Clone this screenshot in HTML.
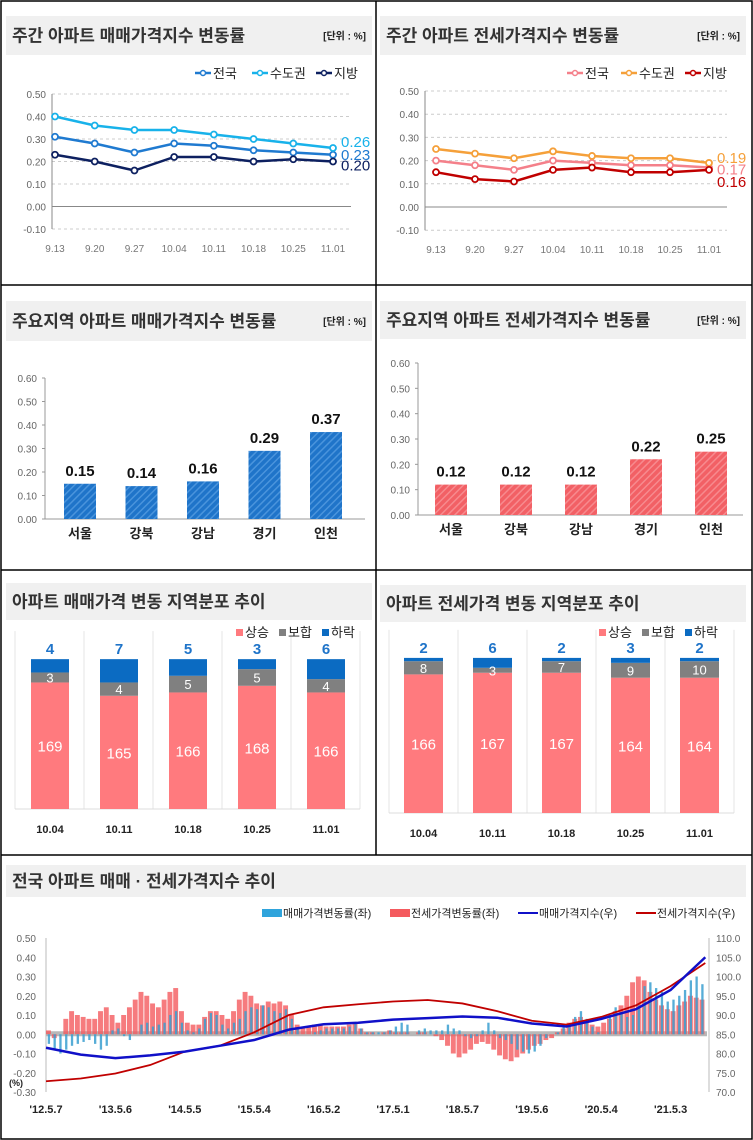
<!DOCTYPE html>
<html><head><meta charset="utf-8"><style>
body{margin:0;background:#fff}
svg{display:block;font-family:"Liberation Sans","Noto Sans CJK KR",sans-serif}
</style></head><body>
<svg id="s" width="753" height="1140" viewBox="0 0 753 1140" xmlns="http://www.w3.org/2000/svg">
<defs>
<pattern id="hb" width="5" height="5" patternUnits="userSpaceOnUse" patternTransform="rotate(45)"><rect width="5" height="5" fill="#1f74c9"/><rect width="1.5" height="5" fill="#4a94dc"/></pattern>
<pattern id="hr" width="5" height="5" patternUnits="userSpaceOnUse" patternTransform="rotate(45)"><rect width="5" height="5" fill="#f26065"/><rect width="1.5" height="5" fill="#f78a8e"/></pattern>
</defs>
<g id="frame" stroke="#000" stroke-width="1.5" fill="none">
<rect x="1" y="1" width="751" height="1138"/>
<line x1="376" y1="1" x2="376" y2="855"/>
<line x1="1" y1="285" x2="752" y2="285"/>
<line x1="1" y1="570" x2="752" y2="570"/>
<line x1="1" y1="855" x2="752" y2="855"/>
</g>
</svg>
<script>
// ---- data ----
const weeks = ["9.13","9.20","9.27","10.04","10.11","10.18","10.25","11.01"];
const saleNation = [0.31,0.28,0.24,0.28,0.27,0.25,0.24,0.23];
const saleCapital = [0.40,0.36,0.34,0.34,0.32,0.30,0.28,0.26];
const saleLocal = [0.23,0.20,0.16,0.22,0.22,0.20,0.21,0.20];
const rentNation = [0.20,0.18,0.16,0.20,0.19,0.18,0.18,0.17];
const rentCapital = [0.25,0.23,0.21,0.24,0.22,0.21,0.21,0.19];
const rentLocal = [0.15,0.12,0.11,0.16,0.17,0.15,0.15,0.16];
const lineTicks = ["0.50","0.40","0.30","0.20","0.10","0.00","-0.10"];
const regions = ["서울","강북","강남","경기","인천"];
const regionSale = [0.15,0.14,0.16,0.29,0.37];
const regionRent = [0.12,0.12,0.12,0.22,0.25];
const barTicks = ["0.60","0.50","0.40","0.30","0.20","0.10","0.00"];
const distDates = ["10.04","10.11","10.18","10.25","11.01"];
const saleUp = [169,165,166,168,166];
const saleFlat = [3,4,5,5,4];
const saleDown = [4,7,5,3,6];
const rentUp = [166,167,167,164,164];
const rentFlat = [8,3,7,9,10];
const rentDown = [2,6,2,3,2];
const histLabels = ["'12.5.7","'13.5.6","'14.5.5","'15.5.4","'16.5.2","'17.5.1","'18.5.7","'19.5.6","'20.5.4","'21.5.3"];
const leftTicks = ["0.50","0.40","0.30","0.20","0.10","0.00","-0.10","-0.20","-0.30"];
const rightTicks = ["110.0","105.0","100.0","95.0","90.0","85.0","80.0","75.0","70.0"];
// monthly changes from 2012.5 to 2021.10
const saleChg = [-0.05,-0.08,-0.10,-0.08,-0.06,-0.05,-0.04,-0.03,
-0.05,-0.08,-0.06,0.02,0.03,-0.01,-0.03,0.00,0.05,0.06,0.04,0.05,
0.06,0.10,0.12,0.06,0.02,0.01,0.03,0.08,0.11,0.10,0.05,0.03,
0.06,0.08,0.12,0.14,0.13,0.15,0.14,0.12,0.11,0.13,0.08,0.03,
0.00,0.00,0.01,0.02,0.03,0.03,0.03,0.03,0.04,0.06,0.03,0.01,
0.01,0.01,0.01,0.02,0.04,0.06,0.05,0.00,0.02,0.03,0.02,0.02,
0.02,0.05,0.03,0.02,-0.01,-0.02,-0.01,0.02,0.06,0.02,-0.02,-0.03,
-0.05,-0.08,-0.09,-0.10,-0.09,-0.06,-0.02,0.00,0.01,0.04,0.05,0.09,
0.12,0.08,0.04,0.01,0.00,0.10,0.14,0.11,0.09,0.10,0.15,0.25,
0.27,0.24,0.22,0.17,0.18,0.20,0.23,0.28,0.30,0.26];
const rentChg = [0.02,-0.02,0.00,0.08,0.12,0.10,0.09,0.08,
0.08,0.12,0.14,0.10,0.06,0.10,0.14,0.18,0.22,0.20,0.16,0.14,
0.18,0.22,0.24,0.12,0.06,0.05,0.05,0.09,0.12,0.12,0.10,0.08,
0.12,0.18,0.22,0.20,0.16,0.15,0.17,0.16,0.17,0.15,0.10,0.05,
0.03,0.04,0.05,0.05,0.04,0.04,0.04,0.04,0.05,0.06,0.03,0.01,
0.01,0.00,0.01,0.02,0.01,0.01,0.01,0.00,0.01,0.01,0.00,-0.01,
-0.03,-0.06,-0.10,-0.12,-0.10,-0.08,-0.05,-0.04,-0.05,-0.08,-0.11,-0.13,
-0.14,-0.12,-0.10,-0.08,-0.06,-0.05,-0.03,-0.02,0.01,0.03,0.06,0.08,
0.09,0.06,0.05,0.04,0.06,0.08,0.12,0.15,0.20,0.27,0.30,0.28,
0.22,0.18,0.15,0.13,0.12,0.15,0.17,0.20,0.19,0.18];
// half-yearly index values from 2012.5 to 2021.11
const saleIdx = [81.5,79.7,78.8,79.5,80.5,82.0,83.5,86.2,87.6,88.0,88.8,89.2,89.6,89.3,87.8,87.0,89.0,91.5,96.5,105.0];
const rentIdx = [72.8,73.5,74.8,77.0,80.5,82.0,85.5,90.0,92.0,92.8,93.5,93.9,93.0,91.0,88.5,87.5,89.5,92.5,97.5,103.5];

const S = document.getElementById('s');
const NS = 'http://www.w3.org/2000/svg';
function mk(tag, at, txt){const e=document.createElementNS(NS,tag);for(const k in at)e.setAttribute(k,at[k]);if(txt!==undefined)e.textContent=txt;S.appendChild(e);return e;}

function title(x,y,w,h,t,unit,name){
 const r=mk('rect',{x:x,y:y,width:w,height:h,fill:'#f0f0f0'});
 
 
 const tt=mk('text',{x:x+6,y:y+h/2+6,'font-size':17,'font-weight':'bold',fill:'#333'},t);
 
 
 if(unit){const u=mk('text',{x:x+w-6,y:y+h/2+4,'font-size':10,'font-weight':'bold',fill:'#222','text-anchor':'end'},'[단위 : %]');
 
 }
}

function lineChart(o){
 const yv=v=>o.y0-(v)*(o.y0-o.y50)/0.5;
 const xv=i=>o.x0+i*(o.x1-o.x0)/(weeks.length-1);
 lineTicks.forEach((t,i)=>{const v=parseFloat(t),y=yv(v);
  const g=mk('line',{x1:o.ax,x2:o.x1+18,y1:y,y2:y,stroke:v===0?'#888':'#ccc','stroke-dasharray':v===0?'':'3,3'});
  
  
  const l=mk('text',{x:o.ax-6,y:y+4,'font-size':10,fill:'#666','text-anchor':'end'},t);
  
  });
 const a=mk('line',{x1:o.ax,x2:o.ax,y1:yv(0.5),y2:yv(-0.1),stroke:'#888'});
 
 
 weeks.forEach((w,i)=>{const l=mk('text',{x:xv(i),y:yv(-0.1)+23,'font-size':10,fill:'#777','text-anchor':'middle'},w);
  
  });
 o.series.forEach((s,k)=>{
  const p=mk('polyline',{points:s.d.map((v,i)=>xv(i)+','+yv(v)).join(' '),fill:'none',stroke:s.c,'stroke-width':2.5});
  
  
  s.d.forEach((v,i)=>{const c=mk('circle',{cx:xv(i),cy:yv(v),r:3,fill:'#fff',stroke:s.c,'stroke-width':1.8});
   
   });
  const last=s.d[s.d.length-1];
  const lb=mk('text',{x:o.x1+8,y:yv(last)+5+s.off,'font-size':15,fill:s.c,'font-weight':s.b?'bold':'normal'},last.toFixed(2));
  
  
  const lx=o.lx[k];
  const ll=mk('line',{x1:lx,x2:lx+16,y1:o.ly,y2:o.ly,stroke:s.c,'stroke-width':2.5});
  
  
  const lc=mk('circle',{cx:lx+8,cy:o.ly,r:2.5,fill:'#fff',stroke:s.c,'stroke-width':1.5});
  
  
  const lt=mk('text',{x:lx+18,y:o.ly+5,'font-size':13,fill:'#222'},s.n);
  
  
 });
}

function barChart(o){
 const yv=v=>o.y0-v*(o.y0-o.y60)/0.6;
 barTicks.forEach(t=>{const y=yv(parseFloat(t));
  const tk=mk('line',{x1:o.ax-3,x2:o.ax,y1:y,y2:y,stroke:'#999'});
  
  
  const l=mk('text',{x:o.ax-8,y:y+4,'font-size':10,fill:'#666','text-anchor':'end'},t);
  
  });
 const a=mk('line',{x1:o.ax,x2:o.ax,y1:yv(0.6),y2:o.y0,stroke:'#999'});
 
 
 const b=mk('line',{x1:o.ax,x2:o.xe,y1:o.y0,y2:o.y0,stroke:'#999'});
 
 
 regions.forEach((r,i)=>{const cx=o.c0+i*o.step,v=o.d[i];
  const rc=mk('rect',{x:cx-o.w/2,y:yv(v),width:o.w,height:o.y0-yv(v),fill:o.fill});
  
  
  const vl=mk('text',{x:cx,y:yv(v)-8,'font-size':15,'font-weight':'bold',fill:'#111','text-anchor':'middle'},v.toFixed(2));
  
  
  const cl=mk('text',{x:cx,y:o.y0+19,'font-size':13,'font-weight':'bold',fill:'#222','text-anchor':'middle'},r);
  
  });
}

function stackChart(o){
 // axis does not start at zero: y = y0 - (cumulative - base) * k
 const yc=v=>o.y0-(v-o.base)*o.k;
 const ytop=yc(176);
 for(let i=0;i<=5;i++){const gx=o.gx0+i*o.step;
  const g=mk('line',{x1:gx,x2:gx,y1:ytop-28,y2:o.y0,stroke:'#e4e4e4'});
  
  }
 const base=mk('line',{x1:o.gx0,x2:o.gx0+5*o.step,y1:o.y0,y2:o.y0,stroke:'#ddd'});
 
 
 distDates.forEach((d,i)=>{const x=o.x0+i*o.step;
  const u=o.up[i],f=o.flat[i],dn=o.down[i];
  const yu=yc(u), yf=yc(u+f), yd=yc(u+f+dn);
  const r1=mk('rect',{x:x,y:yu,width:o.w,height:o.y0-yu,fill:'#ff7a7e'});
  
  
  const r2=mk('rect',{x:x,y:yf,width:o.w,height:yu-yf,fill:'#808080'});
  
  
  const r3=mk('rect',{x:x,y:yd,width:o.w,height:yf-yd,fill:'#0b6bc2'});
  
  
  const t1=mk('text',{x:x+o.w/2,y:(yu+o.y0)/2+6,'font-size':15,fill:'#fff','text-anchor':'middle'},u);
  
  
  const t2=mk('text',{x:x+o.w/2,y:(yf+yu)/2+5,'font-size':13,fill:'#fff','text-anchor':'middle'},f);
  
  
  const t3=mk('text',{x:x+o.w/2,y:yd-5,'font-size':15,'font-weight':'bold',fill:'#1f74c9','text-anchor':'middle'},dn);
  
  
  const xl=mk('text',{x:x+o.w/2,y:o.y0+24,'font-size':11,'font-weight':'bold',fill:'#222','text-anchor':'middle'},d);
  
  });
 [['상승','#ff7a7e'],['보합','#808080'],['하락','#0b6bc2']].forEach((l,k)=>{const lx=o.lx+k*43;
  const r=mk('rect',{x:lx,y:o.ly-8,width:7,height:7,fill:l[1]});
  
  
  const t=mk('text',{x:lx+9,y:o.ly,'font-size':13,fill:'#222'},l[0]);
  
  });
}

// top-left
title(6,16,366,39,'주간 아파트 매매가격지수 변동률',true,'weekly-sale');
lineChart({ax:52,x0:55,x1:333,y0:206.5,y50:94,ly:73,lx:[195,252,316],series:[
 {n:'전국',d:saleNation,c:'#1f7ad0',off:0,b:false},
 {n:'수도권',d:saleCapital,c:'#18b2ea',off:-6,b:false},
 {n:'지방',d:saleLocal,c:'#0d2060',off:4,b:false}]});
// top-right
title(380,16,366,39,'주간 아파트 전세가격지수 변동률',true,'weekly-rent');
lineChart({ax:425,x0:436,x1:709,y0:207,y50:91,ly:73,lx:[567,621,685],series:[
 {n:'전국',d:rentNation,c:'#f4808a',off:2,b:false},
 {n:'수도권',d:rentCapital,c:'#f5a03a',off:-5,b:false},
 {n:'지방',d:rentLocal,c:'#c00000',off:12,b:false}]});
// middle
title(6,301,366,40,'주요지역 아파트 매매가격지수 변동률',true,'region-sale');
barChart({ax:45,xe:365,y0:519,y60:378,c0:80,step:61.5,w:32,d:regionSale,fill:'url(#hb)'});
title(380,301,366,38,'주요지역 아파트 전세가격지수 변동률',true,'region-rent');
barChart({ax:418,xe:743,y0:515,y60:363,c0:451,step:65,w:32,d:regionRent,fill:'url(#hr)'});
// row 3
title(6,583,366,37,'아파트 매매가격 변동 지역분포 추이',false,'dist-sale');
stackChart({gx0:15,step:69,x0:31,w:38,y0:809,base:131,k:3.33,up:saleUp,flat:saleFlat,down:saleDown,lx:236,ly:637});
title(380,585,366,37,'아파트 전세가격 변동 지역분포 추이',false,'dist-rent');
stackChart({gx0:389,step:69,x0:404,w:39,y0:813,base:82,k:1.65,up:rentUp,flat:rentFlat,down:rentDown,lx:599,ly:637});

// bottom
title(6,865,740,32,'전국 아파트 매매 · 전세가격지수 추이',false,'history');
(function(){
 const px0=46,px1=707,yT=938,yB=1092;
 const yl=v=>yT+(0.5-v)*(yB-yT)/0.8;
 const yr=v=>yT+(110-v)*(yB-yT)/40;
 const yearW=69.4;
 const xm=i=>px0+i*yearW/12;
 const xh=i=>px0+i*yearW/2;
 leftTicks.forEach(t=>{const l=mk('text',{x:36,y:yl(parseFloat(t))+4,'font-size':10,fill:'#666','text-anchor':'end'},t);
  
  });
 rightTicks.forEach(t=>{const l=mk('text',{x:716,y:yr(parseFloat(t))+4,'font-size':10,fill:'#666'},t);
  
  });
 const pu=mk('text',{x:9,y:1086,'font-size':9,'font-weight':'bold',fill:'#222'},'(%)');
 
 
 const la=mk('line',{x1:px0,x2:px0,y1:yT,y2:yB,stroke:'#bbb'});
 
 
 const ra=mk('line',{x1:px1+2,x2:px1+2,y1:yT,y2:yB,stroke:'#bbb'});
 
 
 const z=mk('rect',{x:px0,y:yl(0)-3,width:px1-px0,height:5,fill:'#b8b8b8'});
 
 
 const bw=yearW/12;
 rentChg.forEach((v,i)=>{const y=Math.min(yl(v),yl(0));
  const r=mk('rect',{x:xm(i),y:y,width:bw*0.85,height:Math.abs(yl(v)-yl(0)),fill:'#f45a5e',opacity:0.8});
  
  });
 saleChg.forEach((v,i)=>{const y=Math.min(yl(v),yl(0));
  const r=mk('rect',{x:xm(i)+bw*0.3,y:y,width:bw*0.4,height:Math.abs(yl(v)-yl(0)),fill:'#3a9fd0',opacity:0.85});
  
  });
 const pr=mk('polyline',{points:rentIdx.map((v,i)=>xh(i)+','+yr(v)).join(' '),fill:'none',stroke:'#c00000','stroke-width':1.8});
 
 
 const ps=mk('polyline',{points:saleIdx.map((v,i)=>xh(i)+','+yr(v)).join(' '),fill:'none',stroke:'#1010c8','stroke-width':2.5});
 
 
 histLabels.forEach((t,i)=>{const l=mk('text',{x:px0+i*yearW,y:1113,'font-size':11,'font-weight':'bold',fill:'#222','text-anchor':'middle'},t);
  
  });
 const leg=[['rect','#2fa4dc','매매가격변동률(좌)',262],['rect','#f45a5e','전세가격변동률(좌)',390],['line','#1010c8','매매가격지수(우)',518],['line','#c00000','전세가격지수(우)',636]];
 leg.forEach(l=>{let s;
  if(l[0]==='rect')s=mk('rect',{x:l[3],y:909,width:20,height:8,fill:l[1]});
  else s=mk('line',{x1:l[3],x2:l[3]+20,y1:913,y2:913,stroke:l[1],'stroke-width':2});
  
  
  const t=mk('text',{x:l[3]+21,y:917,'font-size':11,fill:'#222'},l[2]);
  
  });
})();
S.appendChild(document.getElementById('frame'));
</script>
</body></html>
